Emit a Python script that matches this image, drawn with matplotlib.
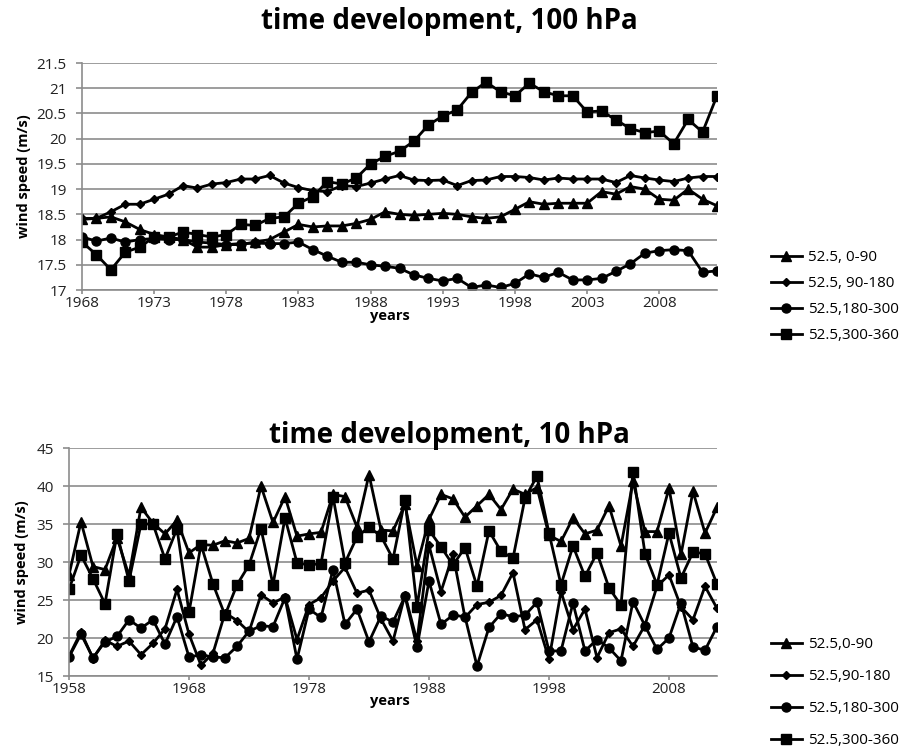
"""Wind speed time development at 100 hPa and 10 hPa."""

import matplotlib.pyplot as plt

plt.rcParams["font.family"] = ["Open Sans", "DejaVu Sans"]

# 100 hPa, 1968-2012
years_100 = list(range(1968, 2013))
hpa100_0_90 = [18.4, 18.42, 18.45, 18.35, 18.2, 18.1, 18.05, 18.0, 17.85, 17.85,
               17.9, 17.9, 17.95, 18.0, 18.15, 18.3, 18.25, 18.27, 18.27, 18.32,
               18.4, 18.55, 18.5, 18.48, 18.5, 18.52, 18.5, 18.45, 18.42, 18.45,
               18.6, 18.75, 18.7, 18.72, 18.72, 18.72, 18.95, 18.9, 19.05, 19.0,
               18.8, 18.78, 19.0, 18.8, 18.67]
hpa100_90_180 = [18.42, 18.42, 18.55, 18.7, 18.7, 18.8, 18.9, 19.07, 19.02, 19.1,
                 19.13, 19.2, 19.2, 19.27, 19.12, 19.03, 18.97, 18.95, 19.07, 19.05,
                 19.12, 19.2, 19.27, 19.18, 19.17, 19.18, 19.07, 19.17, 19.18, 19.25,
                 19.25, 19.23, 19.18, 19.22, 19.2, 19.2, 19.2, 19.13, 19.27, 19.22,
                 19.18, 19.15, 19.22, 19.25, 19.25]
hpa100_180_300 = [18.05, 17.97, 18.03, 17.95, 18.0, 18.02, 18.0, 18.0, 17.95, 17.93,
                  17.9, 17.92, 17.93, 17.92, 17.92, 17.95, 17.8, 17.67, 17.55, 17.55,
                  17.5, 17.47, 17.43, 17.3, 17.23, 17.18, 17.23, 17.05, 17.1, 17.05,
                  17.13, 17.32, 17.25, 17.35, 17.2, 17.2, 17.23, 17.37, 17.52, 17.73,
                  17.78, 17.8, 17.78, 17.35, 17.38]
hpa100_300_360 = [17.95, 17.7, 17.4, 17.75, 17.85, 18.05, 18.05, 18.15, 18.1, 18.05,
                  18.1, 18.3, 18.28, 18.42, 18.45, 18.72, 18.85, 19.15, 19.1, 19.22,
                  19.5, 19.65, 19.75, 19.95, 20.27, 20.45, 20.57, 20.92, 21.12, 20.93,
                  20.85, 21.1, 20.93, 20.85, 20.85, 20.53, 20.55, 20.37, 20.2, 20.12,
                  20.15, 19.9, 20.38, 20.13, 20.85]
labels_100 = ["52.5, 0-90", "52.5, 90-180", "52.5,180-300", "52.5,300-360"]

# 10 hPa, 1958-2012
years_10 = list(range(1958, 2013))
hpa10_0_90 = [28.3, 35.3, 29.4, 29.0, 33.2, 28.2, 37.2, 35.1, 33.7, 35.5,
              31.2, 32.3, 32.2, 32.8, 32.5, 33.1, 40.0, 35.2, 38.6, 33.4,
              33.7, 33.9, 38.9, 38.6, 34.6, 41.5, 34.2, 34.1, 37.6, 29.5,
              35.6, 38.9, 38.3, 35.9, 37.4, 38.9, 36.9, 39.6, 38.9, 39.8,
              33.5, 32.7, 35.8, 33.7, 34.2, 37.4, 32.1, 40.6, 34.0, 34.0,
              39.7, 31.0, 39.3, 33.8, 37.2]
hpa10_90_180 = [17.6, 20.8, 17.3, 19.7, 18.9, 19.6, 17.8, 19.3, 21.2, 26.4,
                20.5, 16.4, 18.0, 23.3, 22.3, 20.8, 25.7, 24.6, 25.4, 19.8,
                24.4, 25.3, 27.5, 29.3, 25.9, 26.3, 22.5, 19.6, 25.7, 19.6,
                32.2, 26.1, 31.0, 22.7, 24.4, 24.7, 25.6, 28.6, 21.1, 22.4,
                17.2, 26.1, 21.1, 23.8, 17.4, 20.7, 21.2, 18.9, 21.7, 26.8,
                28.3, 24.1, 22.4, 26.8, 23.9]
hpa10_180_300 = [17.5, 20.5, 17.4, 19.5, 20.2, 22.4, 21.3, 22.4, 19.2, 22.8,
                 17.5, 17.8, 17.5, 17.4, 18.9, 20.9, 21.6, 21.5, 25.3, 17.2,
                 23.8, 22.7, 29.0, 21.8, 23.8, 19.5, 22.9, 22.1, 25.5, 18.8,
                 27.5, 21.8, 23.0, 22.8, 16.3, 21.4, 23.2, 22.8, 23.0, 24.7,
                 18.3, 18.3, 24.6, 18.3, 19.8, 18.7, 17.0, 24.8, 21.6, 18.5,
                 20.0, 24.6, 18.8, 18.4, 21.5]
hpa10_300_360 = [26.4, 30.9, 27.8, 24.5, 33.7, 27.5, 35.0, 35.0, 30.4, 34.4,
                 23.4, 32.3, 27.1, 23.0, 27.0, 29.6, 34.4, 27.0, 35.8, 29.9,
                 29.6, 29.8, 38.6, 29.9, 33.3, 34.6, 33.4, 30.4, 38.2, 24.1,
                 34.2, 32.0, 29.6, 31.9, 26.8, 34.1, 31.4, 30.5, 38.4, 41.3,
                 33.8, 27.0, 32.1, 28.1, 31.2, 26.6, 24.3, 41.9, 31.1, 27.0,
                 33.8, 27.9, 31.3, 31.1, 27.1]
labels_10 = ["52.5,0-90", "52.5,90-180", "52.5,180-300", "52.5,300-360"]

markers = [("^", 7), ("D", 4.5), ("o", 6.5), ("s", 7)]
grid_grey = "#8c8c8c"

W, H = 912, 753


def add_panel(rect_px, years, series, labels, xticks, ylim, yticks,
              title, title_y, ylabel_right, xlabel_drop,
              legend_top, legend_spacing):
    # rect_px: left, top, right, bottom of the plot area in pixels
    left, top, right, bottom = rect_px
    width = right - left
    height = bottom - top
    ax = fig.add_axes([left / W, 1 - bottom / H, width / W, height / H])
    for values, label, (mk, ms) in zip(series, labels, markers):
        ax.plot(years, values, color="black", lw=2, marker=mk, markersize=ms,
                label=label)
    ax.set_xlim(years[0], years[-1])
    ax.set_ylim(*ylim)
    ax.set_xticks(xticks)
    ax.set_yticks(yticks)
    ax.set_yticklabels([f"{v:g}" for v in yticks])
    ax.grid(axis="y", color=grid_grey, lw=1.2)
    ax.set_axisbelow(True)
    for side in ("top", "right"):
        ax.spines[side].set_visible(False)
    for side in ("left", "bottom"):
        ax.spines[side].set_color(grid_grey)
        ax.spines[side].set_linewidth(1.2)
    ax.tick_params(color=grid_grey, width=1.2, labelsize=11,
                   labelcolor="#222222")
    ax.tick_params(axis="y", length=4, pad=7)
    ax.tick_params(axis="x", length=3, pad=1)
    ax.set_xlabel("years", fontsize=10.5, fontweight="bold")
    ax.set_ylabel("wind speed (m/s)", fontsize=10.5, fontweight="bold")
    ax.xaxis.set_label_coords((390 - left) / width, -xlabel_drop / height)
    ax.yaxis.set_label_coords((ylabel_right - left) / width, 0.5)

    fig.text(449 / W, 1 - title_y / H, title, ha="center", va="center",
             fontsize=20, fontweight="bold")
    fig.legend(*ax.get_legend_handles_labels(), loc="upper left",
               bbox_to_anchor=(771 / W, 1 - legend_top / H), frameon=False,
               fontsize=11, handlelength=2.0, handletextpad=0.4,
               labelspacing=legend_spacing, borderpad=0, borderaxespad=0)
    return ax


fig = plt.figure(figsize=(W / 100, H / 100), dpi=100)

add_panel((82, 63, 717, 290), years_100,
          [hpa100_0_90, hpa100_90_180, hpa100_180_300, hpa100_300_360],
          labels_100, list(range(1968, 2012, 5)), (17, 21.5),
          [17, 17.5, 18, 18.5, 19, 19.5, 20, 20.5, 21, 21.5],
          "time development, 100 hPa", 22, 31, 19, 250, 0.72)

add_panel((69, 448, 717, 676), years_10,
          [hpa10_0_90, hpa10_90_180, hpa10_180_300, hpa10_300_360],
          labels_10, list(range(1958, 2012, 10)), (15, 45),
          [15, 20, 25, 30, 35, 40, 45],
          "time development, 10 hPa", 435, 29, 18, 637, 1.12)

fig.savefig("out.png", dpi=100)
